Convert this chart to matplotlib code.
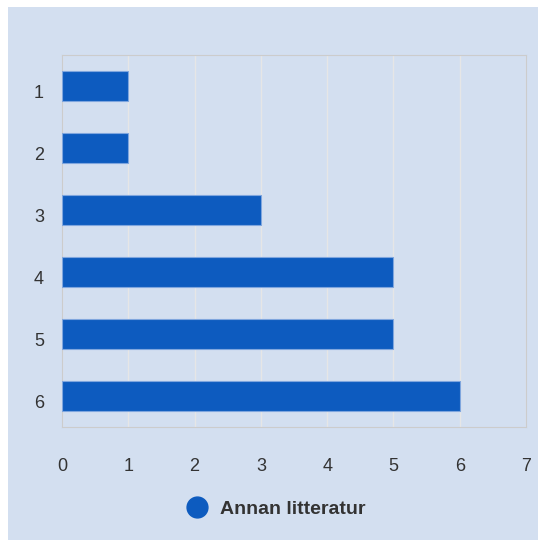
import matplotlib.pyplot as plt
from matplotlib.patches import Rectangle
from matplotlib.lines import Line2D
from matplotlib.transforms import ScaledTranslation

categories = ['1', '2', '3', '4', '5', '6']
values = [1, 1, 3, 5, 5, 6]
series_name = 'Annan litteratur'

bg = '#d3dff0'
bar_color = '#0d5bbf'

plt.rcParams['font.family'] = ['Liberation Sans', 'DejaVu Sans']

fig = plt.figure(figsize=(5.38, 5.40), dpi=100)
fig.patch.set_facecolor('white')
fig.patches.append(Rectangle((8 / 538, 0), 1, 1 - 7 / 540, transform=fig.transFigure,
                             facecolor=bg, edgecolor='none', zorder=-5))

ax = fig.add_axes([62 / 538, 1 - 427 / 540, 464 / 538, 372 / 540])
ax.set_facecolor(bg)
ypos = list(range(len(categories)))
ax.barh(ypos, values, height=0.48, color=bar_color, edgecolor='#7fa6de',
        linewidth=0.8, zorder=3)
ax.set_ylim(len(categories) - 0.5, -0.5)
ax.set_yticks(ypos)
ax.set_yticklabels(categories)
ax.set_xlim(0, 7)
ax.set_xticks(range(8))
ax.grid(axis='x', color='#e6e6e6', linewidth=1, zorder=0)
for s in ax.spines.values():
    s.set_color('#cccccc')
ax.tick_params(length=0, labelsize=13, colors='#333333')
ax.tick_params(axis='x', pad=22)
ax.tick_params(axis='y', pad=13)
for lbl in ax.get_yticklabels():
    lbl.set_transform(lbl.get_transform() + ScaledTranslation(0, -0.05, fig.dpi_scale_trans))

handle = Line2D([], [], marker='o', linestyle='none', markersize=15,
                markerfacecolor=bar_color, markeredgecolor=bar_color)
leg = fig.legend([handle], [series_name], loc='center', bbox_to_anchor=(0.505, 1 - 509 / 540),
                 frameon=False, prop={'weight': 'bold', 'size': 14}, handletextpad=0.2)
for t in leg.get_texts():
    t.set_color('#333333')

fig.savefig('out.png', dpi=100)
